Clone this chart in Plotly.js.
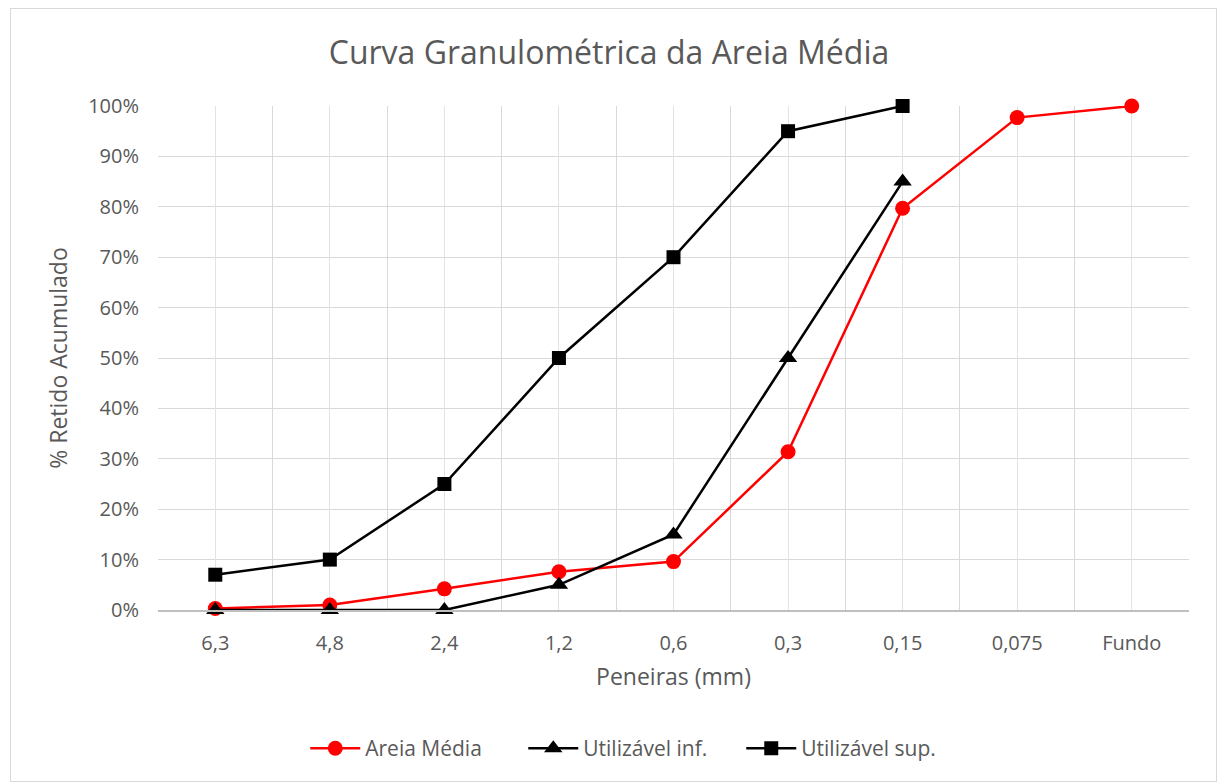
<!DOCTYPE html>
<html><head><meta charset="utf-8">
<script src="https://cdn.plot.ly/plotly-3.0.1.min.js"></script>
<style>body{margin:0;background:#fff}#c{width:1218px;height:783px}#frame{position:absolute;left:10px;top:8px;width:1205px;height:772px;border:1px solid #d9d9d9;pointer-events:none}</style>
</head><body><div id="c"></div><div id="frame"></div>
<script>
const categories = ['6,3','4,8','2,4','1,2','0,6','0,3','0,15','0,075','Fundo'];
const areiaMedia = [0.3, 1.0, 4.2, 7.6, 9.6, 31.4, 79.7, 97.7, 100];
const utilInf = [0, 0, 0, 5, 15, 50, 85];
const utilSup = [7, 10, 25, 50, 70, 95, 100];
const yTicks = [0,10,20,30,40,50,60,70,80,90,100];

const fontFam = 'Open Sans, sans-serif';
const grey = '#595959';
const traces = [
  {x: categories, y: areiaMedia, name: 'Areia Média', mode: 'lines+markers', cliponaxis: false,
   line: {color: '#ff0000', width: 2.5}, marker: {symbol: 'circle', size: 15, color: '#ff0000'}},
  {x: categories.slice(0, utilInf.length), y: utilInf, name: 'Utilizável inf.', mode: 'lines+markers', cliponaxis: false,
   line: {color: '#000000', width: 2.5}, marker: {symbol: 'triangle-up', size: 16, color: '#000000'}},
  {x: categories.slice(0, utilSup.length), y: utilSup, name: 'Utilizável sup.', mode: 'lines+markers', cliponaxis: false,
   line: {color: '#000000', width: 2.5}, marker: {symbol: 'square', size: 14, color: '#000000'}},
  {x: categories.map((c,i)=>i), y: areiaMedia, xaxis: 'x2', mode: 'markers', marker: {opacity: 0},
   showlegend: false, hoverinfo: 'skip'}
];
const layout = {
  width: 1218, height: 783,
  margin: {l: 158, r: 29, t: 106, b: 173},
  paper_bgcolor: '#fff', plot_bgcolor: '#fff',
  font: {family: fontFam, color: grey},
  title: {text: 'Curva Granulométrica da Areia Média', font: {size: 32, color: grey, family: fontFam}, x: 0.5, xanchor: 'center', y: 0.932, yanchor: 'middle'},
  xaxis: {type: 'category', categoryarray: categories, categoryorder: 'array', range: [-0.5, 8.5],
    tickson: 'boundaries', showgrid: true, gridcolor: '#d9d9d9', gridwidth: 1,
    showline: true, linecolor: '#bfbfbf', linewidth: 1.5, ticks: '', tickfont: {size: 20, color: grey},
    ticklabelstandoff: 14,
    title: {text: 'Peneiras (mm)', font: {size: 23, color: grey}, standoff: 14}, fixedrange: true, zeroline: false},
  xaxis2: {overlaying: 'x', type: 'linear', range: [-0.5, 8.5], tick0: 0, dtick: 1, showgrid: true,
    gridcolor: '#e3e3e3', gridwidth: 1, showticklabels: false, zeroline: false, showline: false, side: 'bottom'},
  yaxis: {range: [0, 100], tickvals: yTicks, ticktext: yTicks.map(v => v + '%'), showgrid: true,
    gridcolor: '#d9d9d9', gridwidth: 1, zeroline: false, showline: false, ticks: '', tickfont: {size: 20, color: grey},
    ticklabelstandoff: 18,
    title: {text: '% Retido Acumulado', font: {size: 23, color: grey}, standoff: 14}},
  legend: {orientation: 'h', x: 0.46, xanchor: 'center', y: -0.275, yanchor: 'middle', font: {size: 21, color: grey},
    itemwidth: 50, entrywidth: 153, entrywidthmode: 'pixels'},
  showlegend: true
};
Plotly.newPlot('c', traces, layout, {displayModeBar: false, staticPlot: true});
</script></body></html>
